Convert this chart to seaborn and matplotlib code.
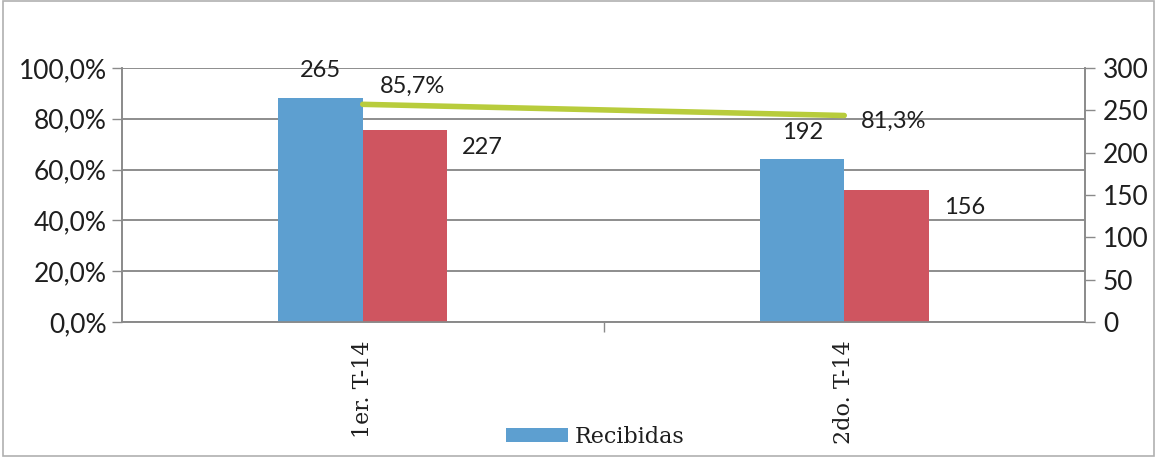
import matplotlib
matplotlib.use("Agg")
import matplotlib.pyplot as plt
import matplotlib.patches as mpatches
import matplotlib.ticker as mticker
import seaborn as sns
import pandas as pd

categories = ["1er. T-14", "2do. T-14"]
recibidas = [265, 192]
atendidas = [227, 156]
porcentaje = [0.857, 0.813]
pct_labels = ["85,7%", "81,3%"]
series_names = ["Recibidas", "Atendidas"]

sns.set_theme(style="white")
plt.rcParams["font.family"] = ["Lato", "DejaVu Sans"]

W, H = 1157, 457
fig = plt.figure(figsize=(W / 100, H / 100), dpi=100)
fig.patch.set_facecolor("white")
fig.add_artist(mpatches.Rectangle((0.003, 0.003), 0.994, 0.994, transform=fig.transFigure,
                                  fill=False, edgecolor="#b0b0b0", linewidth=1.2))

ax = fig.add_axes([122 / W, 1 - 322 / H, 963 / W, 254 / H])
ax2 = ax.twinx()
ax3 = ax.twinx()

blue = "#5d9fd0"
red = "#cf5560"
green = "#b8cc3c"
text_col = "#1e1e1e"

df = pd.DataFrame({
    "cat": categories * 2,
    "serie": [series_names[0]] * 2 + [series_names[1]] * 2,
    "valor": recibidas + atendidas,
})
sns.barplot(data=df, x="cat", y="valor", hue="serie", order=categories,
            hue_order=series_names, palette=[blue, red], width=0.35,
            ax=ax2, legend=False, saturation=1, linewidth=0, edgecolor="none")

for a in (ax, ax2, ax3):
    a.set_xlim(-0.5, 1.5)
ax.set_ylim(0, 1)
ax2.set_ylim(0, 300)
ax3.set_ylim(0, 1)

# left axis percentages and grid
ax.yaxis.set_major_locator(mticker.MultipleLocator(0.2))
ax.yaxis.set_major_formatter(mticker.FuncFormatter(lambda v, p: f"{v*100:.1f}%".replace(".", ",")))
ax.grid(axis="y", color="#7a7a7a", linewidth=1.2)
ax.set_axisbelow(True)
ax.tick_params(axis="y", left=True, length=7, width=1, color="#8a8a8a", labelsize=19, pad=4,
               labelcolor=text_col)

ax2.yaxis.set_major_locator(mticker.MultipleLocator(50))
ax2.tick_params(axis="y", right=True, length=7, width=1, color="#8a8a8a", labelsize=19, pad=6,
                labelcolor=text_col)
ax2.set_ylabel("")
ax2.set_xlabel("")

# x axis
ax.set_xticks([0, 1])
ax.set_xticklabels(categories, rotation=90, family=["DejaVu Serif"], fontsize=16, color=text_col)
ax.set_xticks([0.5], minor=True)
ax.tick_params(axis="x", which="major", length=0, pad=13)
ax.tick_params(axis="x", which="minor", bottom=True, length=7, width=1, color="#8a8a8a")
for a in (ax2, ax3):
    a.tick_params(axis="x", which="both", bottom=False, labelbottom=False)

for a in (ax, ax2, ax3):
    a.spines["top"].set_visible(False)
    for s in ("left", "right", "bottom"):
        a.spines[s].set_color("#8a8a8a")
        a.spines[s].set_linewidth(1.2)
ax3.set_axis_off()
ax2.patch.set_visible(False)
ax3.patch.set_visible(False)

# line
sns.lineplot(x=[0, 1], y=porcentaje, ax=ax3, color=green, linewidth=4, legend=False)

# bar labels
nb = len(categories)
for i, bar in enumerate(ax2.patches[:2 * nb]):
    cx = bar.get_x() + bar.get_width() / 2
    top = bar.get_height()
    if i < nb:
        ax2.annotate(f"{int(round(top))}", (cx, top), xytext=(0, 12), textcoords="offset points",
                     ha="center", va="bottom", fontsize=17, color=text_col)
    else:
        ax2.annotate(f"{int(round(top))}", (bar.get_x() + bar.get_width(), top), xytext=(11, -13),
                     textcoords="offset points", ha="left", va="center", fontsize=17, color=text_col)

offsets = [(12, 13), (12, -4)]
for i, (v, t) in enumerate(zip(porcentaje, pct_labels)):
    ax3.annotate(t, (i, v), xytext=offsets[i], textcoords="offset points",
                 ha="left", va="center", fontsize=17, color=text_col)

handle = mpatches.Patch(facecolor=blue, edgecolor="none", label=series_names[0])
fig.legend(handles=[handle], loc="center", bbox_to_anchor=(595 / W, 1 - 437 / H), frameon=False,
           prop={"family": "DejaVu Serif", "size": 16}, handlelength=2.8, handleheight=0.6,
           handletextpad=0.3, labelcolor=text_col)

fig.savefig("out.png", dpi=100)
